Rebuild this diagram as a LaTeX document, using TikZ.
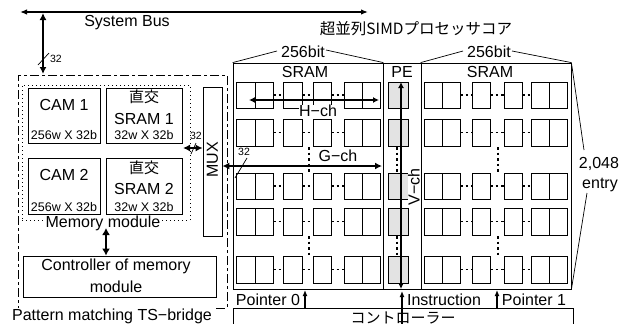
\documentclass[tikz,border=0pt]{standalone}
\usepackage{fontspec}
\setmainfont{Liberation Sans}
\newfontfamily\jp{Noto Sans CJK JP}
\usetikzlibrary{arrows.meta}
\begin{document}
\begin{tikzpicture}[x=1pt,y=-1pt,
  box/.style={draw,line width=0.8pt},
  cell/.style={draw,line width=0.8pt},
  pecell/.style={draw,line width=0.8pt,fill=gray!22},
  lbl/.style={inner sep=0pt,font=\fontsize{16}{18}\selectfont},
  sml/.style={inner sep=0pt,font=\fontsize{12.5}{14}\selectfont},
  tinylbl/.style={inner sep=0pt,font=\fontsize{10.5}{12}\selectfont},
  busarr/.style={line width=1.3pt,{Latex[length=7pt,width=5.5pt]}-{Latex[length=7pt,width=5.5pt]}},
  fatarr/.style={line width=2pt,{Latex[length=7pt,width=7pt]}-{Latex[length=7pt,width=7pt]}},
  midarr/.style={line width=1.5pt,{Latex[length=6pt,width=6pt]}-{Latex[length=6pt,width=6pt]}},
  uparr/.style={line width=1.2pt,-{Latex[length=6pt,width=5pt]}},
  dotline/.style={line width=1.4pt,dash pattern=on 2.5pt off 3pt},
  dashdot/.style={draw,line width=0.9pt,dash pattern=on 9pt off 3pt on 3pt off 3pt},
  dotbox/.style={draw,line width=1pt,dash pattern=on 1pt off 3pt},
  thin/.style={line width=0.7pt}
]
\useasboundingbox (0,0) rectangle (619,324);

% ---------- system bus ----------
\coordinate (busL) at (20,12);
\coordinate (busR) at (368,12);
\draw[busarr] (busL) -- (busR);
\node[lbl] (sysbus) at (127,23) {System Bus};
\coordinate (vbT) at (43,13);
\coordinate (vbB) at (43,74);
\draw[fatarr] (vbT) -- (vbB);
\draw[thin] (38,65) -- (49,53);
\node[tinylbl] (b32a) at (56,59) {32};

% ---------- TS bridge ----------
\node[dashdot,minimum width=209pt,minimum height=233pt,inner sep=0pt] (tsb) at (122.5,191.5) {};
\node[lbl,fill=white,inner sep=1pt] (tsbl) at (112,316) {Pattern matching TS−bridge};

% memory module
\node[dotbox,minimum width=168pt,minimum height=135pt,inner sep=0pt] (mem) at (106,152.5) {};
\node[lbl,fill=white,inner sep=1pt] (meml) at (103,223) {Memory module};

\node[box,minimum width=72pt,minimum height=55pt,inner sep=0pt] (cam1) at (64,115.5) {};
\node[lbl] (cam1t) at (64,105) {CAM 1};
\node[sml] (cam1s) at (64,135) {256w X 32b};
\node[box,minimum width=76pt,minimum height=55pt,inner sep=0pt] (sr1) at (144,115.5) {};
\node[lbl] (sr1j) at (144,97) {\jp\fontsize{15}{17}\selectfont 直交};
\node[lbl] (sr1t) at (144,119) {SRAM 1};
\node[sml] (sr1s) at (144,135) {32w X 32b};

\node[box,minimum width=72pt,minimum height=56pt,inner sep=0pt] (cam2) at (64,186) {};
\node[lbl] (cam2t) at (64,175) {CAM 2};
\node[sml] (cam2s) at (64,207) {256w X 32b};
\node[box,minimum width=76pt,minimum height=56pt,inner sep=0pt] (sr2) at (144,186) {};
\node[lbl] (sr2j) at (144,168) {\jp\fontsize{15}{17}\selectfont 直交};
\node[lbl] (sr2t) at (144,189) {SRAM 2};
\node[sml] (sr2s) at (144,207) {32w X 32b};

% MUX
\node[box,minimum width=19pt,minimum height=149pt,inner sep=0pt] (mux) at (212.5,161.5) {};
\node[lbl,rotate=90] (muxt) at (212.5,160) {MUX};
\draw[fatarr] (183,148) -- (mux.west |- 0,148);
\draw[thin] (191,154) -- (196,143);
\node[tinylbl] (m32) at (196,136) {32};

% controller of memory module
\node[box,minimum width=193pt,minimum height=41pt,inner sep=0pt] (ctl) at (119.5,276.5) {};
\node[lbl] (ctl1) at (116,266) {Controller of memory};
\node[lbl] (ctl2) at (116,287) {module};
\draw[line width=2.2pt,{Latex[length=7pt,width=8pt]}-{Latex[length=7pt,width=8pt]}] (106,228) -- (ctl.north -| 106,0);

% ---------- SIMD core ----------
\node[lbl] (core) at (416,29) {\jp\fontsize{15.5}{17}\selectfont 超並列SIMDプロセッサコア};
\node[box,minimum width=150pt,minimum height=226pt,inner sep=0pt] (lblk) at (308,176) {};
\node[box,minimum width=38pt,minimum height=226pt,inner sep=0pt] (peblk) at (402,176) {};
\node[box,minimum width=150pt,minimum height=226pt,inner sep=0pt] (rblk) at (496,176) {};

\node[lbl] (bitl) at (303,52) {256bit};
\draw[thin] (lblk.north west) -- (277,51);
\draw[thin] (326,50) -- (lblk.north east);
\node[lbl] (bitr) at (489,52) {256bit};
\draw[thin] (rblk.north west) -- (463,51);
\draw[thin] (512,51) -- (rblk.north east);
\node[lbl] (sraml) at (305,72) {SRAM};
\node[lbl] (pel) at (402,72) {PE};
\node[lbl] (sramr) at (490,72) {SRAM};

% cells
\foreach \r/\s in {82/108,119/146,173/199,208/235,256/283}{
  \foreach \a/\b in {236/255,255/273,283/302,313/331,344/362,362/380,
                     424/442,442/460,472/490,504/522,531/549,549/567}{
    \draw[cell] (\a,\r) rectangle (\b,\s);
  }
  \draw[pecell] (388,\r) rectangle (408,\s);
  \foreach \a/\b in {273/283,302/313,331/344,460/472,490/504,522/531}{
    \draw[dotline] (\a,{(\r+\s)/2}) -- (\b,{(\r+\s)/2});
  }
}
\foreach \x in {309,397,498}{
  \draw[dotline] (\x,147) -- (\x,173);
  \draw[dotline] (\x,236) -- (\x,256);
}

% channels
\draw[midarr] (249,100) -- (379,100);
\node[lbl,fill=white,inner sep=0.5pt] (hch) at (318,111) {H−ch};
\draw[fatarr] (mux.east |- 0,166) -- (382,166);
\node[lbl] (gch) at (338,156) {G−ch};
\draw[thin] (235,178) -- (247,158);
\node[tinylbl] (g32) at (244,152) {32};
\draw[midarr] (401,82) -- (401,289);
\node[lbl,rotate=90,fill=white,inner sep=0.5pt] (vch) at (414,187) {V−ch};

% 2048 entry
\node[lbl] (e1) at (599,164) {2,048};
\node[lbl] (e2) at (600,185) {entry};
\draw[thin] (rblk.north east) -- (584,150);
\draw[thin] (587,193) -- (rblk.south east);

% bottom
\node[lbl] (p0) at (268,300) {Pointer 0};
\node[lbl] (ins) at (444,300) {Instruction};
\node[lbl] (p1) at (534,300) {Pointer 1};
\draw[box] (233,330) -- (233,308) -- (573,308) -- (573,330);
\coordinate (ctlc) at (403,308);
\node[lbl] (ctlj) at (403,318) {\jp\fontsize{15}{17}\selectfont コントローラー};
\draw[uparr] (305,308) -- (305,290);
\draw[uparr] (402,324) -- (402,291);
\draw[uparr] (497,308) -- (497,290);
\end{tikzpicture}
\end{document}
